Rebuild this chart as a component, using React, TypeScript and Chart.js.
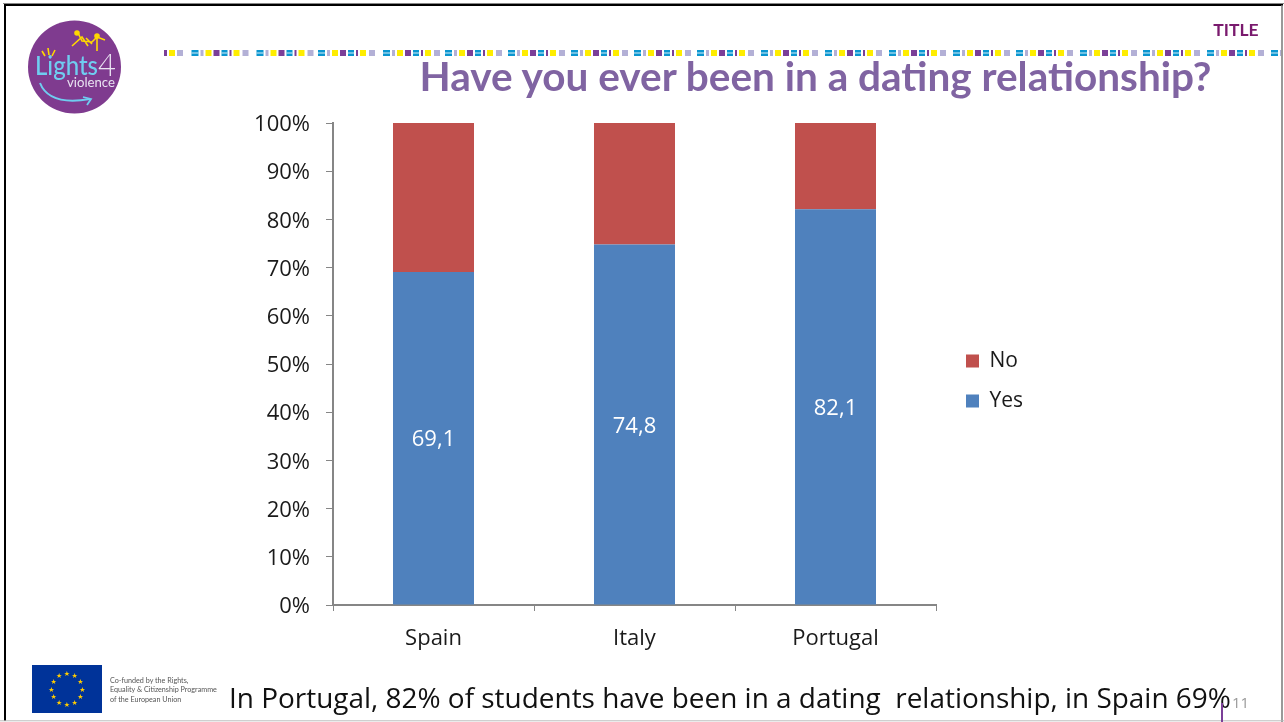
import React, { useEffect, useRef } from "react";
import { Chart, registerables } from "chart.js";

Chart.register(...registerables);

const categories = ["Spain", "Italy", "Portugal"];
const yesValues = [69.1, 74.8, 82.1];
const noValues = [30.9, 25.2, 17.9];
const yTicks = [0, 10, 20, 30, 40, 50, 60, 70, 80, 90, 100];
const seriesNames = ["Yes", "No"];
const TITLE = "Have you ever been in a dating relationship?";
const FOOTER = "In Portugal, 82% of students have been in a dating  relationship, in Spain 69%";
const FONT = "'Open Sans', 'Noto Sans', sans-serif";

const BLUE = "#0a96d0";
const YELLOW = "#ffed00";
const PURPLE = "#7b3f98";
const LILAC = "#b3b0d6";
const stripGroups = [191.5, 256.5, 318, 383, 445, 508, 571, 634, 697, 761, 825, 889, 953, 1016, 1080, 1143, 1207, 1271];
const stripSegments: [number, number, string][] = [
  [0, 7, BLUE], [9, 3, LILAC], [14, 6, YELLOW], [22, 6, PURPLE], [30, 6, BLUE], [38, 2, PURPLE], [42, 6, YELLOW], [51, 6, LILAC],
];
const stripStart: [number, number, string][] = [
  [164, 3, PURPLE], [169, 6, YELLOW], [177, 6, LILAC],
];

const valueLabels = {
  id: "valueLabels",
  afterDatasetsDraw(chart: any) {
    const { ctx } = chart;
    const meta = chart.getDatasetMeta(0);
    ctx.save();
    ctx.fillStyle = "#ffffff";
    ctx.font = `22px ${FONT}`;
    ctx.textAlign = "center";
    ctx.textBaseline = "middle";
    meta.data.forEach((bar: any, i: number) => {
      const p = bar.getProps(["x", "y", "base"], true);
      ctx.fillText(yesValues[i].toFixed(1).replace(".", ","), p.x, (p.y + p.base) / 2 + 2);
    });
    ctx.restore();
  },
};

const placeLegend = {
  id: "placeLegend",
  afterLayout(chart: any) {
    const l = chart.legend;
    l.left = 947;
    l.right = 1100;
    l.top = 331.5;
    l.bottom = 440;
  },
};

export default function App() {
  const ref = useRef<HTMLCanvasElement | null>(null);

  useEffect(() => {
    document.body.style.margin = "0";
    const chart = new Chart(ref.current as HTMLCanvasElement, {
      type: "bar",
      data: {
        labels: categories,
        datasets: [
          { label: seriesNames[0], data: yesValues, backgroundColor: "#4f81bd" },
          { label: seriesNames[1], data: noValues, backgroundColor: "#c0504d" },
        ],
      },
      options: {
        responsive: false,
        animation: false,
        maintainAspectRatio: false,
        layout: { padding: { top: 123, right: 348, left: 0, bottom: 0 } },
        datasets: { bar: { categoryPercentage: 1, barPercentage: 0.403 } },
        scales: {
          x: {
            stacked: true,
            grid: { offset: true, drawOnChartArea: false, color: "#868686", tickLength: 6, tickColor: "#868686" },
            border: { color: "#868686", width: 2 },
            ticks: { color: "#1a1a1a", font: { family: FONT, size: 22 }, padding: 15, maxRotation: 0 },
            afterFit(s: any) { s.height = 117; },
          },
          y: {
            stacked: true,
            min: 0,
            max: 100,
            afterBuildTicks(s: any) { s.ticks = yTicks.map((value) => ({ value })); },
            grid: { drawOnChartArea: false, color: "#868686", tickLength: 7, tickColor: "#868686" },
            border: { color: "#868686", width: 2 },
            ticks: { color: "#1a1a1a", font: { family: FONT, size: 22 }, padding: 16, labelOffset: 2, callback: (v: any) => `${v}%` },
            afterFit(s: any) { s.width = 333; },
          },
        },
        plugins: {
          title: { display: false },
          tooltip: { enabled: false },
          legend: {
            position: "chartArea",
            align: "start",
            reverse: true,
            labels: { boxWidth: 13, boxHeight: 13, padding: 19, color: "#1a1a1a", font: { family: FONT, size: 21 } },
          },
        },
      } as any,
      plugins: [valueLabels, placeLegend],
    });
    return () => chart.destroy();
  }, []);

  const strip: React.ReactNode[] = [];
  stripStart.forEach(([x, w, c], i) => {
    strip.push(<rect key={`s${i}`} x={x} y={50} width={w} height={6} fill={c} />);
  });
  stripGroups.forEach((gx, g) => {
    stripSegments.forEach(([off, w, c], i) => {
      const x = gx + off;
      if (x < 1281) {
        const cw = Math.min(w, 1281 - x);
        strip.push(<rect key={`${g}-${i}`} x={x} y={50} width={cw} height={6} fill={c} />);
        if (c === BLUE) strip.push(<rect key={`w${g}-${i}`} x={x} y={52.5} width={cw} height={1} fill="#d8eef8" />);
      }
    });
  });

  const stars = Array.from({ length: 12 }, (_, i) => {
    const a = (i * Math.PI) / 6;
    return <text key={i} x={67 + 15.5 * Math.sin(a)} y={691.5 - 15.5 * Math.cos(a)} fontSize={7} fill="#ffcc00" textAnchor="middle" fontFamily="DejaVu Sans">★</text>;
  });

  return (
    <div style={{ position: "relative", width: 1284, height: 722, overflow: "hidden", background: "#fff" }}>
      <canvas ref={ref} width={1284} height={722} style={{ position: "absolute", left: 0, top: 0, display: "block" }} />
      <svg width={1284} height={722} style={{ position: "absolute", left: 0, top: 0 }}>
        <line x1={3} y1={3.5} x2={1284} y2={3.5} stroke="#888" strokeWidth={1} />
        <line x1={4} y1={5} x2={1283} y2={5} stroke="#000" strokeWidth={2} />
        <line x1={5} y1={4} x2={5} y2={721} stroke="#000" strokeWidth={2} />
        <line x1={1282} y1={5} x2={1282} y2={722} stroke="#777" strokeWidth={1.5} />
        <line x1={0} y1={720.8} x2={1284} y2={720.8} stroke="#bbb" strokeWidth={1} />
        {strip}
        <circle cx={74.5} cy={67} r={46.5} fill="#7f3b8f" />
        <text x={35} y={75} fontFamily="Lato" fontSize={27} fontWeight={500} fill="#6fcdf0" textLength={63} lengthAdjust="spacingAndGlyphs">Lights</text>
        <text x={98} y={76} fontFamily="Lato" fontSize={31} fontWeight={300} fill="#e9e3f2">4</text>
        <text x={67} y={87} fontFamily="Lato" fontSize={14} fill="#e9e3f2" textLength={48} lengthAdjust="spacingAndGlyphs">violence</text>
        <path d="M40 83 Q49 106 90 99" fill="none" stroke="#6fcdf0" strokeWidth={2} />
        <path d="M83 97 L91 99 L87 105" fill="none" stroke="#6fcdf0" strokeWidth={1.8} />
        <g stroke="#ffd800" strokeWidth={1.6} fill="none">
          <path d="M72 46 L82 37 L88 46 M78 33 L82 41 L92 42 L97 37 L97 51 M97 37 L105 40 M92 44 L86 38" />
          <circle cx={77} cy={33} r={2} fill="#ffd800" />
          <circle cx={97} cy={36} r={2} fill="#ffd800" />
          <path d="M42 51 L45 56 M48 48 L49 55 M55 50 L52 56" />
        </g>
        <text x={1236} y={36} textAnchor="middle" fontFamily="Lato" fontWeight={700} fontSize={17.5} fill="#7a1a6e">TITLE</text>
        <text x={815.5} y={91} textAnchor="middle" fontFamily="Lato" fontWeight={700} fontSize={40.5} fill="#8064a2">{TITLE}</text>
        <rect x={32} y={665} width={70} height={48} fill="#003399" />
        {stars}
        <g fontFamily="Lato" fontSize={7.2} fill="#555">
          <text x={110} y={682.5}>Co-funded by the Rights,</text>
          <text x={110} y={692}>Equality &amp; Citizenship Programme</text>
          <text x={110} y={701.5}>of the European Union</text>
        </g>
        <text x={229} y={708} fontFamily={FONT} fontSize={27.95} fill="#111" style={{ whiteSpace: "pre" }}>{FOOTER}</text>
        <line x1={1222} y1={703} x2={1222} y2={722} stroke="#7b3f98" strokeWidth={2} />
        <text x={1232} y={708} fontFamily={FONT} fontSize={15} fill="#999">11</text>
      </svg>
    </div>
  );
}
